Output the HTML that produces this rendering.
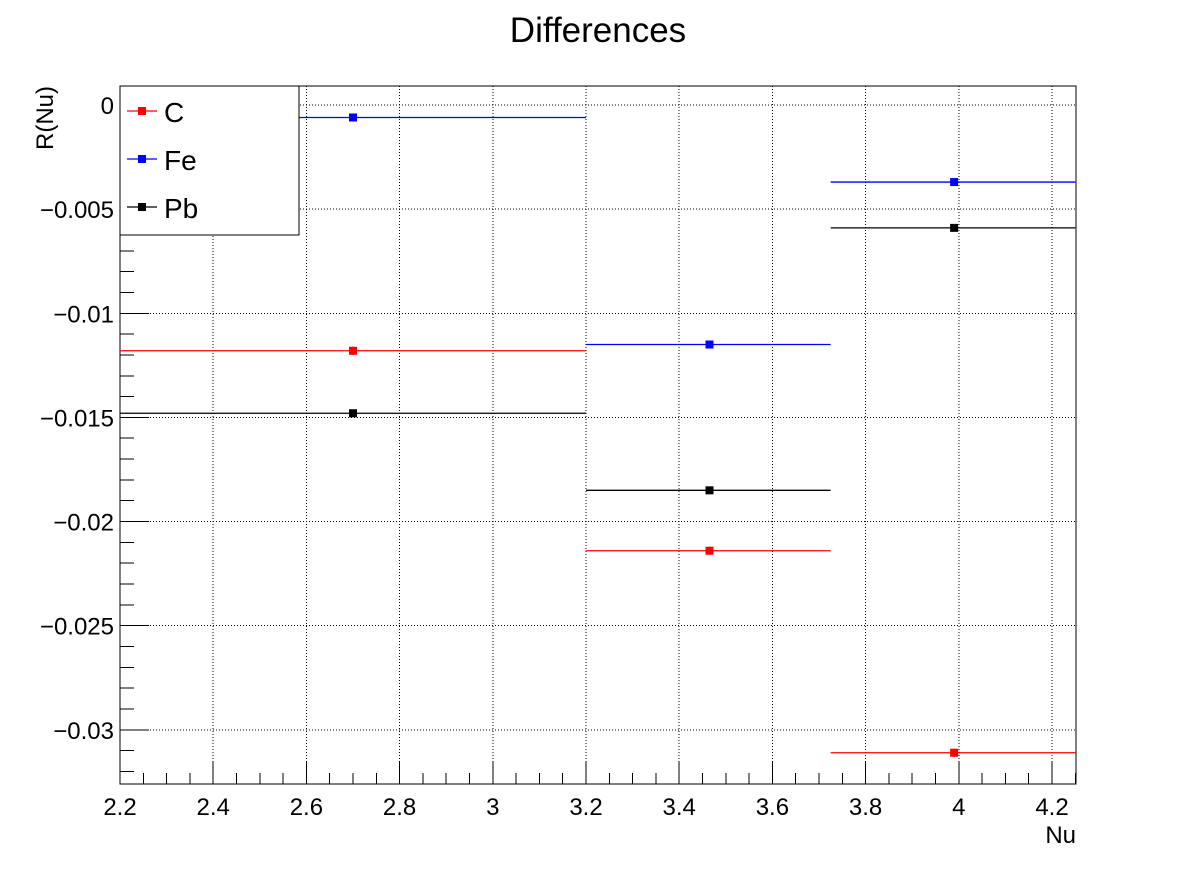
<!DOCTYPE html>
<html><head><meta charset="utf-8"><style>body{margin:0;background:#fff}svg{display:block;font-family:"Liberation Sans",sans-serif}</style></head>
<body>
<svg id="c" width="1196" height="872">
<rect width="1196" height="872" fill="#fff"/>
<text x="598" y="42" font-size="35" text-anchor="middle">Differences</text>
<g id="grid" shape-rendering="crispEdges"></g><g id="axes" shape-rendering="crispEdges"></g><g id="marks"></g><g id="legend"></g>
</svg>
<script>
const binEdges=[2.2,3.2,3.725,4.25];
const binCenters=[2.7,3.465,3.99];
const seriesNames=["C","Fe","Pb"];
const seriesColors=["#ff0000","#0000ff","#000000"];
const valuesC=[-0.0118,-0.0214,-0.0311];
const errorsC=[0.0002,0.0002,0.0002];
const valuesFe=[-0.0006,-0.0115,-0.0037];
const valuesPb=[-0.0148,-0.0185,-0.0059];
const xTicks=[2.2,2.4,2.6,2.8,3,3.2,3.4,3.6,3.8,4,4.2];
const xTickLabels=["2.2","2.4","2.6","2.8","3","3.2","3.4","3.6","3.8","4","4.2"];
const yTicks=[0,-0.005,-0.01,-0.015,-0.02,-0.025,-0.03];
const yTickLabels=["0","\u22120.005","\u22120.01","\u22120.015","\u22120.02","\u22120.025","\u22120.03"];
const L=120,R=1076,T=86,B=784,xmin=2.2,xmax=4.2515,ymax=0.000912,ymin=-0.0326;
const X=v=>L+(v-xmin)/(xmax-xmin)*(R-L), Y=v=>T+(ymax-v)/(ymax-ymin)*(B-T);
const NS="http://www.w3.org/2000/svg";
function mk(p,t,a){const e=document.createElementNS(NS,t);for(const k in a)e.setAttribute(k,a[k]);document.getElementById(p).appendChild(e);return e;}
let e;
xTicks.forEach((v,i)=>{
 e=mk("grid","line",{x1:X(v),x2:X(v),y1:T,y2:B,stroke:"#000","stroke-dasharray":"1,2","stroke-width":1});
 
 e=mk("axes","line",{x1:X(v),x2:X(v),y1:B,y2:B-22,stroke:"#000"});
 
 e=mk("axes","text",{x:X(v),y:B+31,"font-size":24,"text-anchor":"middle"});e.textContent=xTickLabels[i];
 
});
for(let v=2.2;v<xmax;v+=0.05){e=mk("axes","line",{x1:X(v),x2:X(v),y1:B,y2:B-11,stroke:"#000"});
 }
yTicks.forEach((v,i)=>{
 e=mk("grid","line",{x1:L,x2:R,y1:Y(v),y2:Y(v),stroke:"#000","stroke-dasharray":"1,2","stroke-width":1});
 
 e=mk("axes","line",{x1:L,x2:L+29,y1:Y(v),y2:Y(v),stroke:"#000"});
 
 e=mk("axes","text",{x:L-6,y:Y(v)+9,"font-size":24,"text-anchor":"end"});e.textContent=yTickLabels[i];
 
});
for(let k=0;k<=32;k++){const v=-k*0.001;e=mk("axes","line",{x1:L,x2:L+14,y1:Y(v),y2:Y(v),stroke:"#000"});
 }
e=mk("axes","rect",{x:L,y:T,width:R-L,height:B-T,fill:"none",stroke:"#000"});

e=mk("axes","text",{x:R,y:843,"font-size":24,"text-anchor":"end"});e.textContent="Nu";

e=mk("axes","text",{x:0,y:0,"font-size":24,"text-anchor":"end",transform:"translate(53,86) rotate(-90)"});e.textContent="R(Nu)";

[valuesC,valuesFe,valuesPb].forEach((vals,s)=>{
 vals.forEach((v,i)=>{
  e=mk("marks","line",{x1:X(binEdges[i]),x2:X(binEdges[i+1]),y1:Y(v),y2:Y(v),stroke:seriesColors[s],"stroke-width":1.3});
  
  if(s===0){
   e=mk("marks","line",{x1:X(binCenters[i]),x2:X(binCenters[i]),y1:Y(v+errorsC[i]),y2:Y(v-errorsC[i]),stroke:seriesColors[s],"stroke-width":1.3});
   
  }
  e=mk("marks","rect",{x:X(binCenters[i])-4,y:Y(v)-4,width:8,height:8,fill:seriesColors[s]});
  
 });
});
e=mk("legend","rect",{x:L,y:T,width:179,height:149,fill:"#fff",stroke:"#000"});

seriesNames.forEach((n,s)=>{const y=111+s*48;
 e=mk("legend","line",{x1:127,x2:157,y1:y,y2:y,stroke:seriesColors[s],"stroke-width":1.3});
 
 e=mk("legend","rect",{x:138,y:y-4,width:8,height:8,fill:seriesColors[s]});
 
 e=mk("legend","text",{x:164,y:y+11,"font-size":28});e.textContent=n;
 
});
</script>
</body></html>
